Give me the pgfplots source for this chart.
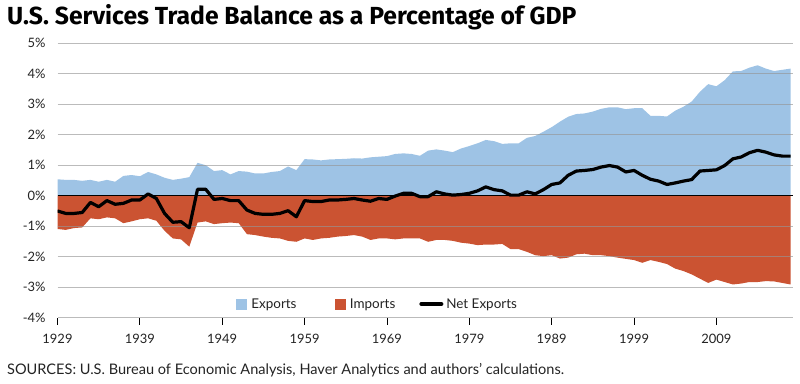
\documentclass[border=0pt]{standalone}
\usepackage{fontspec}
\setmainfont{Lato}
\newfontfamily\titlefont{Fira Sans}
\usepackage{pgfplots}
\usepackage{pgfplotstable}
\pgfplotsset{compat=1.18}
\definecolor{expc}{RGB}{158,195,229}
\definecolor{impc}{RGB}{203,83,50}
\definecolor{gridc}{RGB}{150,150,150}
\definecolor{txt}{RGB}{35,35,35}

\pgfplotstableread{
year exp imp net
1929 0.54 -1.09 -0.50
1930 0.52 -1.12 -0.58
1931 0.52 -1.06 -0.58
1932 0.49 -1.04 -0.55
1933 0.52 -0.74 -0.22
1934 0.46 -0.77 -0.36
1935 0.52 -0.71 -0.16
1936 0.46 -0.74 -0.28
1937 0.65 -0.90 -0.25
1938 0.68 -0.84 -0.14
1939 0.64 -0.77 -0.14
1940 0.78 -0.74 0.06
1941 0.70 -0.82 -0.09
1942 0.59 -1.15 -0.58
1943 0.52 -1.40 -0.87
1944 0.56 -1.43 -0.85
1945 0.61 -1.67 -1.05
1946 1.08 -0.88 0.21
1947 1.00 -0.84 0.21
1948 0.81 -0.93 -0.12
1949 0.84 -0.90 -0.09
1950 0.70 -0.88 -0.16
1951 0.81 -0.90 -0.16
1952 0.79 -1.26 -0.47
1953 0.73 -1.29 -0.58
1954 0.73 -1.34 -0.61
1955 0.78 -1.38 -0.61
1956 0.81 -1.40 -0.58
1957 0.96 -1.48 -0.49
1958 0.84 -1.51 -0.69
1959 1.20 -1.40 -0.16
1960 1.19 -1.45 -0.19
1961 1.16 -1.40 -0.19
1962 1.19 -1.38 -0.14
1963 1.20 -1.34 -0.14
1964 1.21 -1.32 -0.12
1965 1.23 -1.29 -0.09
1966 1.22 -1.34 -0.14
1967 1.26 -1.45 -0.18
1968 1.28 -1.40 -0.09
1969 1.30 -1.40 -0.12
1970 1.37 -1.43 -0.01
1971 1.39 -1.40 0.08
1972 1.37 -1.40 0.08
1973 1.31 -1.40 -0.03
1974 1.48 -1.51 -0.03
1975 1.52 -1.45 0.13
1976 1.48 -1.45 0.06
1977 1.43 -1.48 0.02
1978 1.55 -1.54 0.04
1979 1.63 -1.57 0.08
1980 1.72 -1.62 0.16
1981 1.83 -1.60 0.29
1982 1.79 -1.60 0.20
1983 1.70 -1.58 0.16
1984 1.72 -1.75 0.02
1985 1.72 -1.75 0.02
1986 1.90 -1.84 0.13
1987 1.96 -1.95 0.06
1988 2.10 -1.98 0.20
1989 2.25 -1.95 0.37
1990 2.43 -2.06 0.42
1991 2.59 -2.03 0.67
1992 2.68 -1.92 0.81
1993 2.70 -1.90 0.83
1994 2.76 -1.95 0.86
1995 2.85 -1.95 0.94
1996 2.90 -1.98 0.99
1997 2.90 -2.03 0.94
1998 2.84 -2.07 0.78
1999 2.87 -2.11 0.83
2000 2.87 -2.20 0.67
2001 2.62 -2.11 0.54
2002 2.62 -2.17 0.48
2003 2.60 -2.24 0.37
2004 2.79 -2.39 0.42
2005 2.92 -2.47 0.48
2006 3.09 -2.58 0.53
2007 3.41 -2.72 0.81
2008 3.66 -2.86 0.83
2009 3.59 -2.75 0.85
2010 3.79 -2.83 0.99
2011 4.08 -2.91 1.21
2012 4.09 -2.88 1.27
2013 4.20 -2.83 1.41
2014 4.28 -2.83 1.49
2015 4.17 -2.80 1.43
2016 4.09 -2.81 1.34
2017 4.13 -2.86 1.30
2018 4.17 -2.91 1.30
}\data

\begin{document}
\begin{tikzpicture}
\useasboundingbox (0bp,0bp) rectangle (800bp,384bp);
\node[anchor=base west, inner sep=0, font=\titlefont\bfseries\fontsize{24.8}{28}\selectfont] at (7bp,359bp) {U.S. Services Trade Balance as a Percentage of GDP};
\node[anchor=base west, inner sep=0, font=\fontsize{14.6}{16}\selectfont, text=txt] at (7bp,10bp) {SOURCES: U.S. Bureau of Economic Analysis, Haver Analytics and authors’ calculations.};
\begin{axis}[
  at={(57.5bp,66.3bp)}, anchor=south west,
  width=735.5bp, height=274.4bp, scale only axis,
  xmin=1929, xmax=2018.3, ymin=-4, ymax=5,
  axis line style={draw=none},
  xtick={1929,1939,...,2009},
  ytick={-4,-3,...,5},
  xtick pos=bottom, ytick pos=left,
  tick align=outside,
  major tick length=7bp,
  xtick style={black, line width=0.8bp},
  ytick style={draw=none},
  /pgf/number format/assume math mode=true,
  /pgf/number format/1000 sep={},
  yticklabel={\pgfmathprintnumber{\tick}\%},
  ticklabel style={font=\fontsize{13}{15}\selectfont, text=txt},
  xticklabel style={yshift=-6bp},
  yticklabel style={xshift=-1.5bp},
  legend columns=3,
  legend style={at={(0.435,0.05)}, anchor=center, draw=none, fill=none,
    font=\fontsize{13.5}{15}\selectfont, text=txt,
    /tikz/column 1/.style={column sep=3bp},
    /tikz/column 2/.style={column sep=36bp},
    /tikz/column 3/.style={column sep=3bp},
    /tikz/column 4/.style={column sep=22bp},
    /tikz/column 5/.style={column sep=1bp}},
  legend cell align=left,
]
\addplot[fill=expc, draw=none, forget plot] table[x=year,y=exp]{\data} \closedcycle;
\addplot[fill=impc, draw=none, forget plot] table[x=year,y=imp]{\data} \closedcycle;
\pgfplotsinvokeforeach{-4,-3,-2,-1,1,2,3,4,5}{
  \addplot[gridc, line width=1.2bp, opacity=0.65, forget plot] coordinates {(1929,#1) (2018.3,#1)};
}
\addplot[black, line width=1.3bp, forget plot] coordinates {(1929,0) (2018.3,0)};
\addlegendimage{legend image code/.code={\fill[expc] (0bp,-5bp) rectangle (10bp,5bp);}}
\addlegendentry{Exports}
\addlegendimage{legend image code/.code={\fill[impc] (0bp,-5bp) rectangle (10bp,5bp);}}
\addlegendentry{Imports}
\addplot[black, line width=3.2bp, line join=round,
  legend image code/.code={\draw[black,line width=4bp,line cap=round] (2bp,0bp) -- (22bp,0bp);}]
  table[x=year,y=net]{\data};
\addlegendentry{Net Exports}
\end{axis}
\end{tikzpicture}
\end{document}
